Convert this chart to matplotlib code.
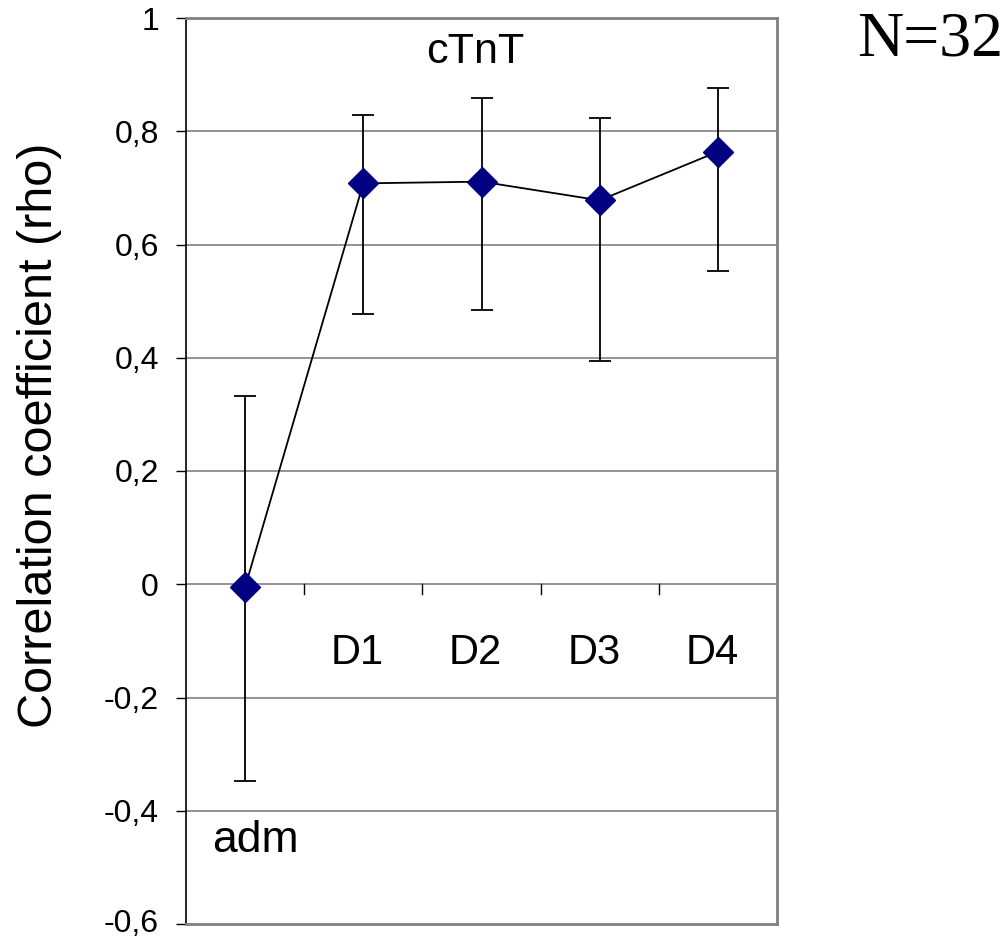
import matplotlib
matplotlib.use("Agg")
import matplotlib.pyplot as plt
import matplotlib.transforms as mtransforms
import numpy as np

categories = ["adm", "D1", "D2", "D3", "D4"]
rho = [-0.005, 0.708, 0.711, 0.678, 0.764]
err_upper = [0.333, 0.828, 0.859, 0.823, 0.877]
err_lower = [-0.347, 0.478, 0.484, 0.394, 0.553]
yticks = [-0.6, -0.4, -0.2, 0, 0.2, 0.4, 0.6, 0.8, 1.0]
yticklabels = ["-0,6", "-0,4", "-0,2", "0", "0,2", "0,4", "0,6", "0,8", "1"]

plt.rcParams['font.family'] = ['Liberation Sans', 'DejaVu Sans']

fig = plt.figure(figsize=(10.08, 9.40), dpi=100)
ax = fig.add_axes([186/1008, 1-924/940, (777-186)/1008, (924-18)/940])

x = np.arange(len(categories)) + 0.5
rho_a = np.array(rho)
yerr = np.vstack([rho_a - np.array(err_lower), np.array(err_upper) - rho_a])

ax.set_xlim(0, 5)
ax.set_ylim(-0.6, 1.0)

for yv in yticks:
    if yv not in (-0.6, 1.0):
        ax.axhline(yv, color='#808080', lw=1.2, zorder=1)

# category boundary ticks on zero line
for b in range(1, 5):
    ax.plot([b, b], [0, -0.018], color='black', lw=1, zorder=2)

ax.errorbar(x, rho, yerr=yerr, fmt='none', ecolor='black', elinewidth=1.3,
            capsize=8, capthick=1.3, zorder=3)
ax.plot(x, rho, color='black', lw=1.3, zorder=4)
ax.plot(x, rho, linestyle='none', marker='D', markersize=15,
        markerfacecolor='#000080', markeredgecolor='#000080', zorder=5)

ax.set_yticks(yticks)
ax.set_yticklabels(yticklabels, fontsize=23)
ax.tick_params(axis='y', direction='out', length=7.5, width=1, pad=12)
ax.set_xticks([])

# nudge bottom tick label slightly up so it stays inside the figure
bottom_label = ax.get_yticklabels()[0]
bottom_label.set_transform(bottom_label.get_transform() +
                           mtransforms.ScaledTranslation(0, 4/100, fig.dpi_scale_trans))

ax.spines['left'].set_color('black')
ax.spines['left'].set_linewidth(1.2)
for s in ['top', 'right', 'bottom']:
    ax.spines[s].set_color('#808080')
    ax.spines[s].set_linewidth(2)

for xi, c in zip(x[1:], categories[1:]):
    ax.text(xi - 0.05, -0.14, c, ha='center', va='baseline', fontsize=30)
ax.text(0.22, -0.472, categories[0], ha='left', va='baseline', fontsize=32)
ax.text(2.45, 0.920, "cTnT", ha='center', va='baseline', fontsize=31)

fig.text(40/1008, 1-435/940, "Correlation coefficient (rho)", rotation=90,
         ha='center', va='center', fontsize=35)
fig.text(930/1008, 1-40/940, "N=32", ha='center', va='center', fontsize=46,
         family=['Liberation Serif', 'DejaVu Serif'])

fig.savefig("out.png", dpi=100)
